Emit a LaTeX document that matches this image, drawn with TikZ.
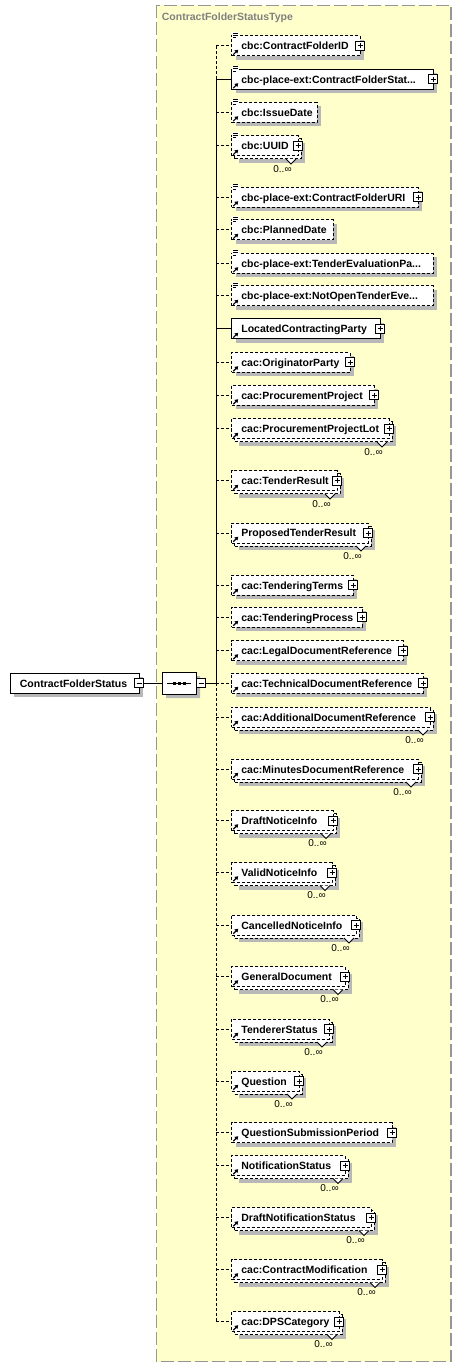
\documentclass[tikz,border=0pt]{standalone}
\usepackage{fontspec}
\setmainfont{Liberation Sans}
\usetikzlibrary{arrows.meta,shadows,shapes.misc}
\definecolor{yel}{RGB}{255,255,204}
\definecolor{shd}{RGB}{184,184,184}
\definecolor{ttlc}{RGB}{128,128,128}
\definecolor{ybord}{RGB}{150,150,150}
\tikzset{
  elbox/.style={rectangle, draw=black, fill=white, line width=.5pt, inner sep=0pt, minimum height=10pt},
  dsh/.style={dash pattern=on 1.5pt off 1pt},
  sld/.style={solid},
  shad/.style={drop shadow={shadow xshift=2pt,shadow yshift=-2pt,opacity=1,fill=shd}},
  etext/.style={anchor=base west, inner sep=0pt, font=\fontsize{5.25}{6}\selectfont\bfseries},
  occ/.style={inner sep=0pt, font=\fontsize{5}{6}\selectfont},
  pm/.style={rectangle, draw=black, fill=white, line width=.5pt, inner sep=0pt, minimum size=4.5pt},
  pmline/.style={line width=.5pt},
  refarrow/.style={line width=.6pt,-{Triangle[length=1.6pt,width=2pt]}},
  docl/.style={line width=.45pt},
  notch/.style={line width=.5pt, fill=white},
  conn/.style={line width=.5pt},
}
\newcommand\plusbox[3]{%
  \node[pm] (#1) at (#2,#3) {};
  \draw[pmline] ({#2-2.5},#3) -- ({#2+2.5},#3) (#2,{#3-2.5}) -- (#2,{#3+2.5});}
\newcommand\minusbox[3]{%
  \node[pm] (#1) at (#2,#3) {};
  \draw[pmline] ({#2-2.5},#3) -- ({#2+2.5},#3);}
\newcommand\kidrest[4]{% id, y, style, text
  \node[etext] (#1t) at (241,{#2+4}) {#4};
  \draw[refarrow] (233.3,{#2+8.6}) -- (238.2,{#2+3.7});
  \coordinate (#1j) at (216,#2);
  \draw[conn,#3] (#1j) -- (#1.west);}
\newcommand\kidbox[5]{% id, y, R, style, text
  \node[elbox,#4,shad,minimum width={(#3-231.7)*0.5pt}] (#1) at ({(231.7+#3)/2},#2) {};
  \kidrest{#1}{#2}{#4}{#5}}
\newcommand\kidmulti[5]{% id, y, R, style, text
  \node[elbox,#4,shad,minimum width={(#3-231.7)*0.5pt}] (#1b) at ({(231.7+#3)/2+3},{#2+3}) {};
  \node[elbox,#4,minimum width={(#3-231.7)*0.5pt}] (#1) at ({(231.7+#3)/2},#2) {};
  \draw[notch] ({#3-12},{#2+13}) -- ({#3-7},{#2+18}) -- ({#3-2},{#2+13});
  \node[occ] (#1o) at ({#3-15.5},{#2+23}) {0..∞};
  \kidrest{#1}{#2}{#4}{#5}}
\newcommand\kiddoc[1]{%
  \fill[white] (232.2,{#1-13.8}) rectangle (238.6,{#1-7.2});
  \draw[docl] (232.8,{#1-12.8}) -- (237.6,{#1-12.8}) (232.8,{#1-10.6}) -- (237.6,{#1-10.6}) (232.8,{#1-8.4}) -- (236.2,{#1-8.4});}
\begin{document}
\begin{tikzpicture}[x=0.5pt,y=-0.5pt]
\useasboundingbox (0,0) rectangle (462,1368);
\fill[white] (0,0) rectangle (462,1368);
% type container
\draw[fill=yel, draw=ybord, line width=.8pt, dash pattern=on 6.5pt off 2pt] (156.5,5.5) rectangle (451,1361.5);
\node[anchor=base west, inner sep=0pt, text=ttlc, font=\fontsize{5.25}{6}\selectfont\bfseries] (title) at (161.5,21) {ContractFolderStatusType};

% root element
\node[elbox,shad,minimum width=64.5pt] (root) at (74.5,683) {};
\node[etext] (roott) at (19.5,687) {ContractFolderStatus};
\minusbox{rootm}{139}{683}

% sequence compositor
\node[chamfered rectangle, chamfered rectangle xsep=2.5pt, chamfered rectangle ysep=2.5pt, draw=black, fill=white, line width=.5pt, minimum width=17pt, minimum height=11pt, inner sep=0pt, shad] (seq) at (179,683) {};
\draw[line width=.5pt] (167,683) -- (191,683);
\foreach \dx in {174,179,184} {\fill (\dx-1.5,681.5) rectangle (\dx+1.5,684.5);}
\minusbox{seqm}{201}{683}
\draw[conn] (rootm.east) -- (seq.west);

% children
\kidbox{r1}{46}{360}{dsh}{cbc:ContractFolderID}
\plusbox{r1p}{360}{46}
\kiddoc{46}
\kidbox{r2}{79.5}{433}{sld}{cbc-place-ext:ContractFolderStat...}
\plusbox{r2p}{433}{79.5}
\kiddoc{79.5}
\kidbox{r3}{112.5}{317}{dsh}{cbc:IssueDate}
\kiddoc{112.5}
\kidmulti{r4}{146}{298}{dsh}{cbc:UUID}
\plusbox{r4p}{298}{146}
\kiddoc{146}
\kidbox{r5}{197.5}{418}{dsh}{cbc-place-ext:ContractFolderURI}
\plusbox{r5p}{418}{197.5}
\kiddoc{197.5}
\kidbox{r6}{230}{333}{dsh}{cbc:PlannedDate}
\kiddoc{230}
\kidbox{r7}{263.5}{433}{dsh}{cbc-place-ext:TenderEvaluationPa...}
\kiddoc{263.5}
\kidbox{r8}{296}{433}{dsh}{cbc-place-ext:NotOpenTenderEve...}
\kiddoc{296}
\kidbox{r9}{329}{380}{sld}{LocatedContractingParty}
\plusbox{r9p}{380}{329}
\kidbox{r10}{362.5}{350}{dsh}{cac:OriginatorParty}
\plusbox{r10p}{350}{362.5}
\kidbox{r11}{395.5}{374}{dsh}{cac:ProcurementProject}
\plusbox{r11p}{374}{395.5}
\kidmulti{r12}{429}{389}{dsh}{cac:ProcurementProjectLot}
\plusbox{r12p}{389}{429}
\kidmulti{r13}{481}{337}{dsh}{cac:TenderResult}
\plusbox{r13p}{337}{481}
\kidmulti{r14}{533}{368}{dsh}{ProposedTenderResult}
\plusbox{r14p}{368}{533}
\kidbox{r15}{585}{353}{dsh}{cac:TenderingTerms}
\plusbox{r15p}{353}{585}
\kidbox{r16}{617}{362}{dsh}{cac:TenderingProcess}
\plusbox{r16p}{362}{617}
\kidbox{r17}{650.5}{403}{dsh}{cac:LegalDocumentReference}
\plusbox{r17p}{403}{650.5}
\kidbox{r18}{683}{423}{dsh}{cac:TechnicalDocumentReference}
\plusbox{r18p}{423}{683}
\kidmulti{r19}{717}{430}{dsh}{cac:AdditionalDocumentReference}
\plusbox{r19p}{430}{717}
\kidmulti{r20}{769}{418}{dsh}{cac:MinutesDocumentReference}
\plusbox{r20p}{418}{769}
\kidmulti{r21}{820.5}{333}{dsh}{DraftNoticeInfo}
\plusbox{r21p}{333}{820.5}
\kidmulti{r22}{872.5}{332}{dsh}{ValidNoticeInfo}
\plusbox{r22p}{332}{872.5}
\kidmulti{r23}{925}{356}{dsh}{CancelledNoticeInfo}
\plusbox{r23p}{356}{925}
\kidmulti{r24}{976.5}{345}{dsh}{GeneralDocument}
\plusbox{r24p}{345}{976.5}
\kidmulti{r25}{1029}{329}{dsh}{TendererStatus}
\plusbox{r25p}{329}{1029}
\kidmulti{r26}{1081}{299}{dsh}{Question}
\plusbox{r26p}{299}{1081}
\kidbox{r27}{1132.5}{392}{dsh}{QuestionSubmissionPeriod}
\plusbox{r27p}{392}{1132.5}
\kidmulti{r28}{1165.5}{345}{dsh}{NotificationStatus}
\plusbox{r28p}{345}{1165.5}
\kidmulti{r29}{1217.5}{371}{dsh}{DraftNotificationStatus}
\plusbox{r29p}{371}{1217.5}
\kidmulti{r30}{1269.5}{382}{dsh}{cac:ContractModification}
\plusbox{r30p}{382}{1269.5}
\kidmulti{r31}{1321.5}{339}{dsh}{cac:DPSCategory}
\plusbox{r31p}{339}{1321.5}

% bus
\draw[conn,dsh] (r1j) -- (r2j);
\draw[conn] (r2j) -- (r18j);
\draw[conn,dsh] (r18j) -- (r31j);
\draw[conn] (seqm.east) -- (r18j);
\end{tikzpicture}
\end{document}
